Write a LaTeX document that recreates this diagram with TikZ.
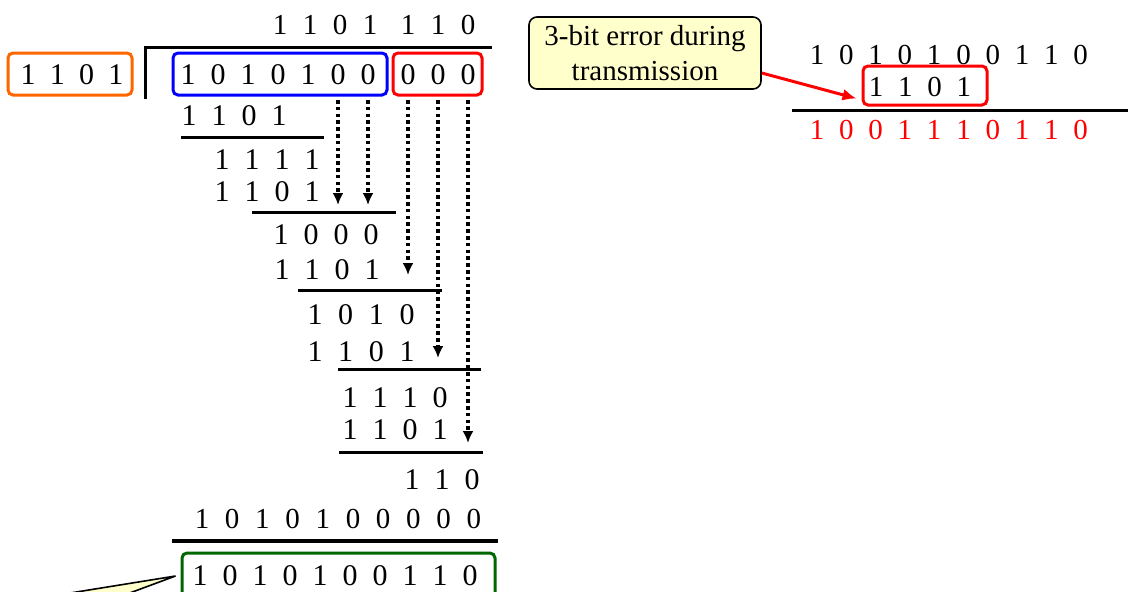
\documentclass[tikz,border=0pt]{standalone}
\usepackage{fontspec}
\setmainfont{Liberation Serif}
\usetikzlibrary{arrows.meta}

\definecolor{divorange}{RGB}{255,102,0}
\definecolor{msgblue}{RGB}{0,0,255}
\definecolor{padred}{RGB}{255,0,0}
\definecolor{codegreen}{RGB}{0,102,0}
\definecolor{noteyellow}{RGB}{255,255,204}

\tikzset{
    bit/.style={inner sep=0pt, font=\fontsize{#1}{#1}\selectfont},
    bit/.default=15,
    frame/.style={draw=#1, line width=1.5pt, rounded corners=2.5pt, inner sep=0pt},
    rule/.style={line width=1.5pt},
    drop/.style={line width=2pt, dash pattern=on 1.8pt off 1.6pt, -{Latex[length=6pt,width=5.5pt]}},
    note/.style={draw, line width=0.8pt, fill=noteyellow, rounded corners=4pt, align=center,
        inner sep=0pt, font=\fontsize{14.5}{17.5}\selectfont},
}

% a row of bits: name, first x, step, y, style, bits
\newcommand{\bitrow}[6]{%
    \foreach \b [count=\i] in {#6}{
        \node[#5] (#1\i) at ({#2 + #3*(\i - 1)}, #4) {\b};
    }%
}

\begin{document}
\begin{tikzpicture}[x=0.5pt, y=-0.5pt]
    \useasboundingbox (0,0) rectangle (1128,591);

    % quotient, divisor and dividend
    \bitrow{q}{280}{30}{25}{bit=14.5}{1,1,0,1}
    \bitrow{qq}{408}{30}{25}{bit=14.5}{1,1,0}
    \bitrow{g}{28}{29.3}{75}{bit}{1,1,0,1}
    \bitrow{d}{188}{30}{75}{bit}{1,0,1,0,1,0,0}
    \bitrow{p}{408}{30}{75}{bit}{0,0,0}
    \node[frame=divorange, minimum width=62pt, minimum height=21pt] (divisor) at (70,74) {};
    \node[frame=msgblue, minimum width=107pt, minimum height=21pt] (message) at (280,74) {};
    \node[frame=padred, minimum width=44.5pt, minimum height=21pt] (padding) at (437.5,74) {};
    \draw[rule] (145,99) -- (145,47) -- (492,47);

    % the steps of the division
    \bitrow{a}{189}{30}{116}{bit}{1,1,0,1}
    \draw[rule] (181,137) -- (324,137);
    \bitrow{b}{222}{30}{160}{bit}{1,1,1,1}
    \bitrow{c}{222}{30}{192}{bit}{1,1,0,1}
    \draw[rule] (252,212) -- (396,212);
    \bitrow{e}{281}{30}{235}{bit}{1,0,0,0}
    \bitrow{f}{282}{30}{270}{bit}{1,1,0,1}
    \draw[rule] (298,290) -- (442,290);
    \bitrow{h}{315}{30.7}{315}{bit}{1,0,1,0}
    \bitrow{k}{315}{30.7}{352}{bit}{1,1,0,1}
    \draw[rule] (338,369) -- (481,369);
    \bitrow{m}{350}{30}{398}{bit}{1,1,1,0}
    \bitrow{n}{350}{30}{430}{bit}{1,1,0,1}
    \draw[rule] (339,452) -- (483,452);
    \bitrow{r}{412}{30}{480}{bit}{1,1,0}

    % bits brought down
    \foreach \s/\y in {d6/205, d7/205, p1/275, p2/358, p3/443}{
        \coordinate (\s-top) at (\s |- 0,100);
        \coordinate (\s-end) at (\s |- 0,\y);
        \draw[drop] (\s-top) -- (\s-end);
    }

    % codeword
    \bitrow{z}{202}{30.2}{519}{bit=14.5}{1,0,1,0,1,0,0,0,0,0}
    \draw[rule, line width=2pt] (172,541) -- (498,541);
    \bitrow{w}{200}{30}{576}{bit}{1,0,1,0,1,0,0,1,1,0}
    \node[frame=codegreen, minimum width=156.5pt, minimum height=23pt] (codeword) at (338.5,576) {};
    \filldraw[fill=noteyellow, line width=0.8pt] (2,604) -- ([xshift=-2.5pt]codeword.west) -- (100,604);

    % received word
    \node[note, minimum width=116pt, minimum height=36pt] (note) at (645,53) {3-bit error during\\transmission};
    \bitrow{t}{817}{29.3}{55}{bit=14.5}{1,0,1,0,1,0,0,1,1,0}
    \bitrow{s}{876}{29.3}{87}{bit=14.5}{1,1,0,1}
    \node[frame=padred, minimum width=62pt, minimum height=19.5pt] (errbox) at (925,85.5) {};
    \draw[rule] (792,110) -- (1128,110);
    \bitrow{u}{817}{29.3}{130}{bit=14.5, text=padred}{1,0,0,1,1,1,0,1,1,0}
    \draw[line width=1.5pt, padred, -{Latex[length=7pt,width=6pt]}] ([yshift=-10pt]note.east) -- ([xshift=-2.5pt,yshift=4pt]errbox.south west);
\end{tikzpicture}
\end{document}
